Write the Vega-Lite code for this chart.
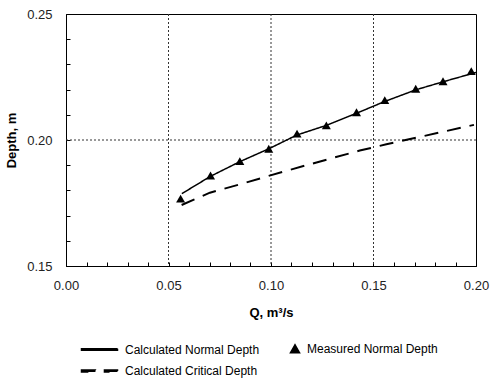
{
  "$schema": "https://vega.github.io/schema/vega-lite/v6.json",
  "width": 410,
  "height": 252,
  "autosize": "none",
  "padding": {"left": 66, "top": 14, "right": 24, "bottom": 115},
  "background": "white",
  "config": {
    "view": {"stroke": "black", "strokeWidth": 1},
    "font": "Liberation Sans",
    "axis": {
      "labelFont": "Liberation Sans",
      "labelFontSize": 13,
      "labelColor": "#222",
      "titleFont": "Liberation Sans",
      "titleFontSize": 13,
      "titleFontWeight": "bold",
      "titleColor": "black",
      "domainColor": "black",
      "tickColor": "black",
      "grid": false,
      "labelFlush": false,
      "labelOverlap": false
    },
    "legend": {
      "orient": "none",
      "legendX": 41,
      "legendY": 329,
      "direction": "horizontal",
      "columns": 2,
      "columnPadding": 27,
      "rowPadding": 9,
      "labelFont": "Liberation Sans",
      "labelFontSize": 12,
      "labelColor": "black",
      "labelOffset": 6,
      "symbolSize": 81,
      "symbolFillColor": "black",
      "symbolOpacity": 1
    }
  },
  "resolve": {"axis": {"x": "independent", "y": "independent"}},
  "datasets": {
    "lines": [
      {"series": "Calculated Normal Depth", "Q": 0.0565, "depth": 0.1787},
      {"series": "Calculated Normal Depth", "Q": 0.0705, "depth": 0.1856},
      {"series": "Calculated Normal Depth", "Q": 0.0848, "depth": 0.1914},
      {"series": "Calculated Normal Depth", "Q": 0.0989, "depth": 0.1965},
      {"series": "Calculated Normal Depth", "Q": 0.1127, "depth": 0.2020},
      {"series": "Calculated Normal Depth", "Q": 0.1270, "depth": 0.2058},
      {"series": "Calculated Normal Depth", "Q": 0.1417, "depth": 0.2106},
      {"series": "Calculated Normal Depth", "Q": 0.1555, "depth": 0.2153},
      {"series": "Calculated Normal Depth", "Q": 0.1706, "depth": 0.2199},
      {"series": "Calculated Normal Depth", "Q": 0.1839, "depth": 0.2231},
      {"series": "Calculated Normal Depth", "Q": 0.2000, "depth": 0.2268},
      {"series": "Calculated Critical Depth", "Q": 0.0564, "depth": 0.1742},
      {"series": "Calculated Critical Depth", "Q": 0.0702, "depth": 0.1791},
      {"series": "Calculated Critical Depth", "Q": 0.0848, "depth": 0.1824},
      {"series": "Calculated Critical Depth", "Q": 0.0978, "depth": 0.1855},
      {"series": "Calculated Critical Depth", "Q": 0.1059, "depth": 0.1874},
      {"series": "Calculated Critical Depth", "Q": 0.1222, "depth": 0.1911},
      {"series": "Calculated Critical Depth", "Q": 0.1433, "depth": 0.1958},
      {"series": "Calculated Critical Depth", "Q": 0.1563, "depth": 0.1983},
      {"series": "Calculated Critical Depth", "Q": 0.1709, "depth": 0.2009},
      {"series": "Calculated Critical Depth", "Q": 0.1990, "depth": 0.2060}
    ],
    "points": [
      {"series": "Measured Normal Depth", "Q": 0.0559, "depth": 0.1765},
      {"series": "Measured Normal Depth", "Q": 0.0705, "depth": 0.1857},
      {"series": "Measured Normal Depth", "Q": 0.0848, "depth": 0.1914},
      {"series": "Measured Normal Depth", "Q": 0.0989, "depth": 0.1963},
      {"series": "Measured Normal Depth", "Q": 0.1127, "depth": 0.2023},
      {"series": "Measured Normal Depth", "Q": 0.1270, "depth": 0.2056},
      {"series": "Measured Normal Depth", "Q": 0.1417, "depth": 0.2108},
      {"series": "Measured Normal Depth", "Q": 0.1555, "depth": 0.2156},
      {"series": "Measured Normal Depth", "Q": 0.1706, "depth": 0.2201},
      {"series": "Measured Normal Depth", "Q": 0.1839, "depth": 0.2231},
      {"series": "Measured Normal Depth", "Q": 0.1977, "depth": 0.2271}
    ],
    "xgrid": [{"Q": 0.05}, {"Q": 0.10}, {"Q": 0.15}],
    "ygrid": [{"depth": 0.20}]
  },
  "layer": [
    {
      "data": {"name": "xgrid"},
      "mark": {"type": "rule", "color": "#333", "strokeDash": [2, 2], "strokeWidth": 1},
      "encoding": {
        "x": {"field": "Q", "type": "quantitative", "scale": {"domain": [0, 0.2], "nice": false, "zero": false},
          "axis": {
            "orient": "bottom",
            "title": null,
            "labels": false,
            "ticks": true,
            "tickSize": -4,
            "domain": true,
            "values": [0, 0.01, 0.02, 0.03, 0.04, 0.05, 0.06, 0.07, 0.08, 0.09, 0.1, 0.11, 0.12, 0.13, 0.14, 0.15, 0.16, 0.17, 0.18, 0.19, 0.2]
          }
        }
      }
    },
    {
      "data": {"name": "ygrid"},
      "mark": {"type": "rule", "color": "#333", "strokeDash": [2, 2], "strokeWidth": 1},
      "encoding": {
        "y": {"field": "depth", "type": "quantitative", "scale": {"domain": [0.15, 0.25], "nice": false, "zero": false},
          "axis": {
            "orient": "left",
            "title": null,
            "labels": false,
            "ticks": true,
            "tickSize": -4,
            "domain": true,
            "values": [0.15, 0.16, 0.17, 0.18, 0.19, 0.2, 0.21, 0.22, 0.23, 0.24, 0.25]
          }
        }
      }
    },
    {
      "data": {"name": "lines"},
      "mark": {"type": "line", "color": "black"},
      "encoding": {
        "x": {"field": "Q", "type": "quantitative",
          "axis": {
            "orient": "bottom",
            "title": "Q, m³/s",
            "ticks": false,
            "domain": false,
            "values": [0, 0.05, 0.1, 0.15, 0.2],
            "format": ".2f",
            "labelPadding": 13,
            "titlePadding": 14
          }
        },
        "y": {"field": "depth", "type": "quantitative",
          "axis": {
            "orient": "left",
            "title": "Depth, m",
            "ticks": false,
            "domain": false,
            "values": [0.15, 0.2, 0.25],
            "format": ".2f",
            "labelPadding": 14,
            "titlePadding": 8
          }
        },
        "detail": {"field": "series"},
        "strokeDash": {"field": "series", "type": "nominal", "title": null,
          "scale": {"domain": ["Calculated Normal Depth", "Measured Normal Depth", "Calculated Critical Depth"], "range": [[1, 0], [1, 0], [14, 9]]}},
        "strokeWidth": {"field": "series", "type": "nominal",
          "scale": {"domain": ["Calculated Normal Depth", "Calculated Critical Depth"], "range": [1.5, 2]},
          "legend": null}
      }
    },
    {
      "data": {"name": "points"},
      "mark": {"type": "point", "filled": true, "color": "black", "opacity": 1, "size": 81},
      "encoding": {
        "x": {"field": "Q", "type": "quantitative", "axis": null},
        "y": {"field": "depth", "type": "quantitative", "axis": null},
        "shape": {"field": "series", "type": "nominal", "title": null,
          "scale": {"domain": ["Calculated Normal Depth", "Measured Normal Depth", "Calculated Critical Depth"],
            "range": [
              "M-7,-0.17L1,-0.17L1,0.17L-7,0.17Z",
              "M0,-1L1,0.75L-1,0.75Z",
              "M-7,-0.22L-3.9,-0.22L-3.9,0.22L-7,0.22Z M-1.9,-0.22L1,-0.22L1,0.22L-1.9,0.22Z"
            ]}
        },
        "strokeDash": {"field": "series", "type": "nominal", "title": null}
      }
    }
  ]
}
